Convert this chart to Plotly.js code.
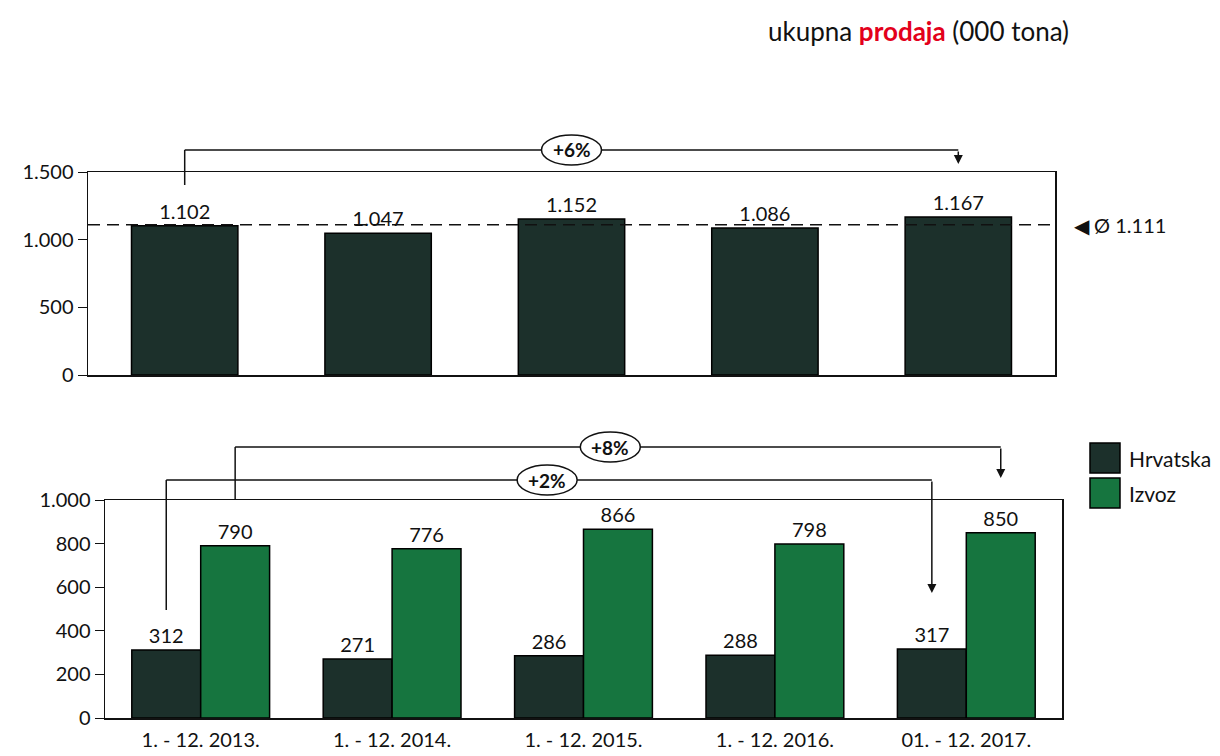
<!DOCTYPE html>
<html>
<head>
<meta charset="utf-8">
<script src="https://cdn.plot.ly/plotly-3.0.1.min.js"></script>
<style>
  body { margin: 0; background: #fff; }
  #grafico { width: 1220px; height: 756px; }
</style>
</head>
<body>
<div id="grafico"></div>
<script>
// podaci (000 tona)
var razdoblja = ["1. - 12. 2013.", "1. - 12. 2014.", "1. - 12. 2015.", "1. - 12. 2016.", "01. - 12. 2017."];
var ukupno = [1102, 1047, 1152, 1086, 1167];
var prosjek = 1111;
var hrvatska = [312, 271, 286, 288, 317];
var izvoz = [790, 776, 866, 798, 850];
var nazivi = ["Hrvatska", "Izvoz"];
var rast = ["+6%", "+8%", "+2%"];

var W = 1220, H = 756;
var tamna = "#1c302b", zelena = "#16753f";
var font = "Lato, 'Open Sans', sans-serif";
var razmak = 0.28; // bargap donjeg grafa
var pomak = (1 - razmak) / 4; // pola sirine jednog stupca

function px(x) { return x / W; }   // piksel -> paper x
function py(y) { return 1 - y / H; } // piksel -> paper y

var idx = razdoblja.map(function (r, i) { return i; });

var data = [
  {
    x: idx, y: ukupno, type: "bar", xaxis: "x", yaxis: "y", width: 0.55,
    marker: {color: tamna, line: {color: "#000", width: 1.5}},
    texttemplate: "%{y:,d}", textposition: "outside",
    textfont: {size: 20, color: "#111", family: font},
    cliponaxis: false, showlegend: false, hoverinfo: "skip"
  },
  {
    x: idx, y: hrvatska, type: "bar", name: nazivi[0], xaxis: "x2", yaxis: "y2",
    marker: {color: tamna, line: {color: "#000", width: 1.5}},
    texttemplate: "%{y:,d}", textposition: "outside",
    textfont: {size: 20, color: "#111", family: font},
    cliponaxis: false, showlegend: false, hoverinfo: "skip"
  },
  {
    x: idx, y: izvoz, type: "bar", name: nazivi[1], xaxis: "x2", yaxis: "y2",
    marker: {color: zelena, line: {color: "#000", width: 1.5}},
    texttemplate: "%{y:,d}", textposition: "outside",
    textfont: {size: 20, color: "#111", family: font},
    cliponaxis: false, showlegend: false, hoverinfo: "skip"
  }
];

var shapes = [];
var annotations = [];

// prosjek - isprekidana linija
shapes.push({type: "line", xref: "x domain", yref: "y", x0: 0, x1: 1, y0: prosjek, y1: prosjek,
  line: {color: "#111", width: 1.5, dash: "12px,7px"}, layer: "above"});
annotations.push({xref: "paper", yref: "y", x: px(1072), y: prosjek, xanchor: "left", yanchor: "middle",
  showarrow: false, text: "◀ Ø " + prosjek.toLocaleString("de-DE"),
  font: {size: 20, color: "#111", family: font}});

// zagrada s postotkom
function zagrada(xr, xOd, xDo, yOd, yVrh, yDo, xOznaka, tekst) {
  shapes.push({type: "line", xref: xr, yref: "paper", x0: xOd, x1: xOd, y0: py(yOd), y1: py(yVrh),
    line: {color: "#111", width: 1.5}});
  shapes.push({type: "line", xref: xr, yref: "paper", x0: xOd, x1: xDo, y0: py(yVrh), y1: py(yVrh),
    line: {color: "#111", width: 1.5}});
  annotations.push({xref: xr, yref: "paper", x: xDo, y: py(yDo), ax: 0, ay: -(yDo - yVrh),
    showarrow: true, arrowhead: 2, arrowsize: 1.2, arrowwidth: 1.5, arrowcolor: "#111", text: ""});
  shapes.push({type: "circle", xref: xr, xsizemode: "pixel", xanchor: xOznaka, x0: -30, x1: 30,
    yref: "paper", y0: py(yVrh + 15), y1: py(yVrh - 15),
    fillcolor: "#fff", line: {color: "#111", width: 1.5}});
  annotations.push({xref: xr, yref: "paper", x: xOznaka, y: py(yVrh), xanchor: "center", yanchor: "middle",
    showarrow: false, text: "<b>" + tekst + "</b>", font: {size: 19, color: "#111", family: font}});
}

zagrada("x", 0, 4, 185, 150, 164, 2, rast[0]);
zagrada("x2", 0 + pomak, 4 + pomak, 500, 447, 478, 2.14, rast[1]);
zagrada("x2", 0 - pomak, 4 - pomak, 610, 480, 593, 1.81, rast[2]);

// legenda
[tamna, zelena].forEach(function (c, i) {
  var y0 = 443 + i * 35;
  shapes.push({type: "rect", xref: "paper", yref: "paper", x0: px(1090), x1: px(1120),
    y0: py(y0 + 30), y1: py(y0), fillcolor: c, line: {color: "#000", width: 1.5}});
  annotations.push({xref: "paper", yref: "paper", x: px(1127), y: py(y0 + 15), xanchor: "left", yanchor: "middle",
    showarrow: false, text: nazivi[i], font: {size: 21, color: "#111", family: font}});
});

// naslov
annotations.push({xref: "paper", yref: "paper", x: px(766), y: py(31), xanchor: "left", yanchor: "middle",
  showarrow: false, text: "ukupna <b><span style='color:#e3001b'>prodaja</span></b> (000 tona)",
  font: {size: 26, color: "#111", family: font}});

var osY = {
  showline: true, linecolor: "#111", linewidth: 1.5, mirror: true,
  ticks: "outside", ticklen: 9, tickcolor: "#111", showgrid: false, zeroline: false,
  tickformat: ",d", tickfont: {size: 20, color: "#111", family: font}, fixedrange: true
};
var osX = {
  showline: true, linecolor: "#111", linewidth: 1.5, mirror: true,
  ticks: "", showgrid: false, zeroline: false, fixedrange: true,
  tickmode: "array", tickvals: idx, ticktext: razdoblja, range: [-0.5, 4.5],
  tickfont: {size: 20, color: "#111", family: font}
};

var layout = {
  width: W, height: H,
  margin: {l: 0, r: 0, t: 0, b: 0},
  paper_bgcolor: "#fff", plot_bgcolor: "#fff",
  separators: ",.",
  showlegend: false,
  font: {family: font, color: "#111"},
  barmode: "group", bargap: razmak,
  xaxis: Object.assign({}, osX, {domain: [px(88), px(1055)], anchor: "y", showticklabels: false}),
  yaxis: Object.assign({}, osY, {domain: [py(375), py(172)], anchor: "x", range: [0, 1500], tickvals: [0, 500, 1000, 1500]}),
  xaxis2: Object.assign({}, osX, {domain: [px(105), px(1062)], anchor: "y2", ticklabelstandoff: 3}),
  yaxis2: Object.assign({}, osY, {domain: [py(718), py(500)], anchor: "x2", range: [0, 1000], tickvals: [0, 200, 400, 600, 800, 1000]}),
  shapes: shapes,
  annotations: annotations
};

Plotly.newPlot("grafico", data, layout, {staticPlot: true, displayModeBar: false});
</script>
</body>
</html>
